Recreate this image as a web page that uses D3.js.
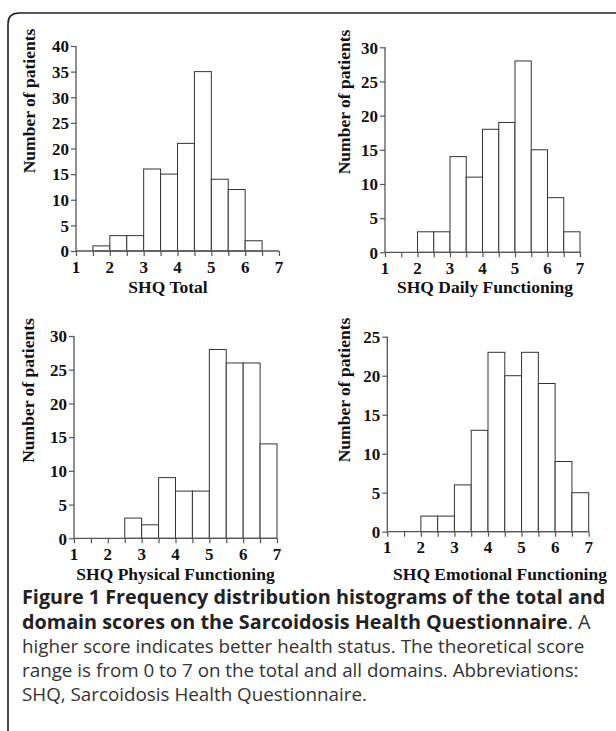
<!DOCTYPE html>
<html><head><meta charset="utf-8">
<script src="https://cdn.jsdelivr.net/npm/d3@7"></script>
<style>html,body{margin:0;padding:0;background:#fff;}svg{display:block;}</style>
</head><body>
<svg id="c" width="616" height="731"></svg>
<script>
// Bin edges (score) and counts per panel
const binStarts = [1, 1.5, 2, 2.5, 3, 3.5, 4, 4.5, 5, 5.5, 6, 6.5];
const binWidth = 0.5;
const totalCounts     = [0, 1, 3, 3, 16, 15, 21, 35, 14, 12, 2, 0];
const dailyCounts     = [0, 0, 3, 3, 14, 11, 18, 19, 28, 15, 8, 3];
const physicalCounts  = [0, 0, 0, 3, 2, 9, 7, 7, 28, 26, 26, 14];
const emotionalCounts = [0, 0, 2, 2, 6, 13, 23, 20, 23, 19, 9, 5];
const xTickLabels = [1, 2, 3, 4, 5, 6, 7];
const yTicksTotal = [0, 5, 10, 15, 20, 25, 30, 35, 40];
const yTicks30 = [0, 5, 10, 15, 20, 25, 30];
const yTicks25 = [0, 5, 10, 15, 20, 25];
const panelTitles = ["SHQ Total", "SHQ Daily Functioning", "SHQ Physical Functioning", "SHQ Emotional Functioning"];
const yTitle = "Number of patients";
const captionBold = ["Figure 1 Frequency distribution histograms of the total and", "domain scores on the Sarcoidosis Health Questionnaire"];
const captionLines = ["higher score indicates better health status. The theoretical score", "range is from 0 to 7 on the total and all domains. Abbreviations:", "SHQ, Sarcoidosis Health Questionnaire."];

const svg = d3.select("#c");
// frame
svg.append("path").attr("d","M8,731 V24 Q8,13 19,13 H616").attr("fill","none").attr("stroke","#222").attr("stroke-width",1.6);

const panels = [
  {counts: totalCounts, yMax: 40, yTicks: yTicksTotal, x0: 76, x1: 279, yb: 251, yt: 46, title: panelTitles[0], tx: 168, ty: 293, lx: 30, ly: 101},
  {counts: dailyCounts, yMax: 30, yTicks: yTicks30, x0: 385, x1: 580, yb: 252.3, yt: 47.3, title: panelTitles[1], tx: 485, ty: 293, lx: 345, ly: 102},
  {counts: physicalCounts, yMax: 30, yTicks: yTicks30, x0: 74, x1: 277, yb: 538.3, yt: 336, title: panelTitles[2], tx: 175.5, ty: 580, lx: 29, ly: 390.5},
  {counts: emotionalCounts, yMax: 25, yTicks: yTicks25, x0: 387.3, x1: 588.7, yb: 531.7, yt: 336.7, title: panelTitles[3], tx: 500, ty: 580, lx: 345, ly: 390}
];
const serif = "'Liberation Serif','Times New Roman',serif";
const axisColor = "#555";
const xMinorTicks = d3.range(1, 7.01, 0.5);

panels.forEach(p => {
  const x = d3.scaleLinear().domain([1, 7]).range([p.x0, p.x1]);
  const y = d3.scaleLinear().domain([0, p.yMax]).range([p.yb, p.yt]);
  const g = svg.append("g");
  g.selectAll("rect.bar").data(binStarts.map((s, i) => ({s, c: p.counts[i]})).filter(d => d.c > 0))
    .enter().append("rect")
    .attr("x", d => x(d.s)).attr("width", d => x(d.s + binWidth) - x(d.s))
    .attr("y", d => y(d.c)).attr("height", d => y(0) - y(d.c))
    .attr("fill", "#fff").attr("stroke", "#333").attr("stroke-width", 1);
  const xa = g.append("g").attr("transform", `translate(0,${p.yb})`)
    .call(d3.axisBottom(x).tickValues(xMinorTicks).tickSize(5).tickFormat(""));
  xa.select(".domain").attr("stroke", axisColor).attr("stroke-width", 1.3).attr("d", `M${p.x0},0H${p.x1}`);
  xa.selectAll(".tick line").attr("stroke", axisColor).attr("stroke-width", 1.2);
  g.selectAll("text.xt").data(xTickLabels).enter().append("text")
    .attr("x", d => x(d)).attr("y", p.yb + 21.5).attr("text-anchor", "middle")
    .attr("font-family", serif).attr("font-weight", "bold").attr("font-size", 17)
    .attr("fill", "#111").text(d => d);
  const ya = g.append("g").attr("transform", `translate(${p.x0},0)`)
    .call(d3.axisLeft(y).tickValues(p.yTicks).tickSize(5).tickPadding(2));
  ya.select(".domain").attr("stroke", axisColor).attr("stroke-width", 1.3).attr("d", `M0,${p.yb}V${p.yt}`);
  ya.selectAll(".tick line").attr("stroke", axisColor).attr("stroke-width", 1.2);
  ya.selectAll(".tick text").attr("font-family", serif).attr("font-weight", "bold").attr("font-size", 17).attr("fill", "#111").attr("dy", "0.34em");
  g.append("text").attr("x", p.tx).attr("y", p.ty).attr("text-anchor", "middle")
    .attr("font-family", serif).attr("font-weight", "bold").attr("font-size", 17.5).attr("fill", "#111").text(p.title);
  g.append("text").attr("transform", `translate(${p.lx + 5},${p.ly}) rotate(-90)`).attr("text-anchor", "middle")
    .attr("font-family", serif).attr("font-weight", "bold").attr("font-size", 17.5).attr("fill", "#111").text(yTitle);
});

// caption
const sans = "'Open Sans','Noto Sans',sans-serif";
const capX = 22;
const t1 = svg.append("text").attr("x", capX).attr("y", 603.5).attr("font-family", sans).attr("font-weight", "bold").attr("font-size", 18).attr("fill", "#222").text(captionBold[0]);
const fs = 18 * 584 / t1.node().getComputedTextLength();
t1.attr("font-size", fs);
const t2 = svg.append("text").attr("x", capX).attr("y", 628.5).attr("font-family", sans).attr("fill", "#222").attr("font-size", fs);
t2.append("tspan").attr("font-weight", "bold").text(captionBold[1]);
t2.append("tspan").attr("fill", "#333").text(". A");
const probe = svg.append("text").attr("font-family", sans).attr("font-size", 18).text(captionLines[0]);
const fs2 = 18 * 563 / probe.node().getComputedTextLength();
probe.remove();
captionLines.forEach((l, i) => {
  svg.append("text").attr("x", capX).attr("y", 652.5 + i * 24).attr("font-family", sans).attr("font-size", fs2).attr("fill", "#333").text(l);
});
</script>
</body></html>
